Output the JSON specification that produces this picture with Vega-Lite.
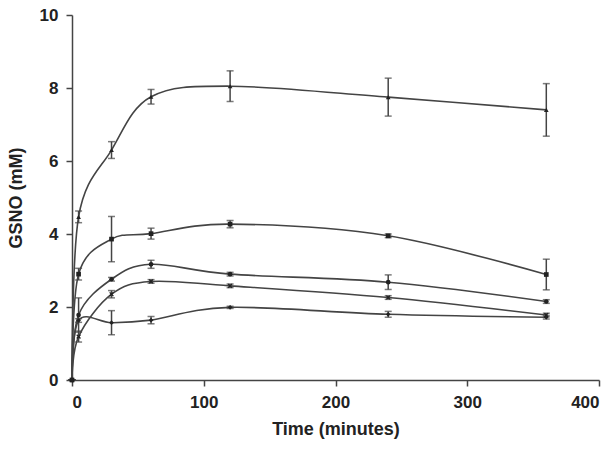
{
  "$schema": "https://vega.github.io/schema/vega-lite/v6.json",
  "autosize": "none",
  "width": 527,
  "height": 365,
  "padding": {"left": 72, "top": 15, "right": 15, "bottom": 80},
  "background": "white",
  "config": {
    "view": {"stroke": null},
    "font": "Liberation Sans",
    "axis": {
      "grid": false,
      "domainColor": "#444",
      "tickColor": "#444",
      "domainWidth": 1.5,
      "tickWidth": 1.5,
      "tickSize": 6,
      "labelFont": "Liberation Sans",
      "labelFontSize": 17,
      "labelFontWeight": "bold",
      "labelColor": "#222",
      "titleFont": "Liberation Sans",
      "titleFontSize": 18,
      "titleFontWeight": "bold",
      "titleColor": "#222"
    }
  },
  "data": {
    "values": [
      {"s": "A", "t": 0, "y": 0, "err": 0},
      {"s": "A", "t": 5, "y": 4.47, "err": 0.16},
      {"s": "A", "t": 30, "y": 6.3, "err": 0.23},
      {"s": "A", "t": 60, "y": 7.76, "err": 0.2},
      {"s": "A", "t": 120, "y": 8.05, "err": 0.42},
      {"s": "A", "t": 240, "y": 7.75, "err": 0.52},
      {"s": "A", "t": 360, "y": 7.4, "err": 0.72},
      {"s": "B", "t": 0, "y": 0, "err": 0},
      {"s": "B", "t": 5, "y": 2.9, "err": 0.16},
      {"s": "B", "t": 30, "y": 3.86, "err": 0.62},
      {"s": "B", "t": 60, "y": 4.01, "err": 0.15},
      {"s": "B", "t": 120, "y": 4.27, "err": 0.1},
      {"s": "B", "t": 240, "y": 3.95, "err": 0.05},
      {"s": "B", "t": 360, "y": 2.89, "err": 0.42},
      {"s": "C", "t": 0, "y": 0, "err": 0},
      {"s": "C", "t": 5, "y": 1.78, "err": 0.47},
      {"s": "C", "t": 30, "y": 2.76, "err": 0.05},
      {"s": "C", "t": 60, "y": 3.17, "err": 0.11},
      {"s": "C", "t": 120, "y": 2.9, "err": 0.05},
      {"s": "C", "t": 240, "y": 2.68, "err": 0.2},
      {"s": "C", "t": 360, "y": 2.15, "err": 0.05},
      {"s": "D", "t": 0, "y": 0, "err": 0},
      {"s": "D", "t": 5, "y": 1.19, "err": 0.15},
      {"s": "D", "t": 30, "y": 2.35, "err": 0.1},
      {"s": "D", "t": 60, "y": 2.7, "err": 0.05},
      {"s": "D", "t": 120, "y": 2.58, "err": 0.05},
      {"s": "D", "t": 240, "y": 2.26, "err": 0.05},
      {"s": "D", "t": 360, "y": 1.78, "err": 0.05},
      {"s": "E", "t": 0, "y": 0, "err": 0},
      {"s": "E", "t": 5, "y": 1.63, "err": 0.05},
      {"s": "E", "t": 30, "y": 1.57, "err": 0.33},
      {"s": "E", "t": 60, "y": 1.64, "err": 0.1},
      {"s": "E", "t": 120, "y": 1.99, "err": 0.03},
      {"s": "E", "t": 240, "y": 1.8, "err": 0.08},
      {"s": "E", "t": 360, "y": 1.72, "err": 0.05}
    ]
  },
  "encoding": {
    "x": {
      "field": "t", "type": "quantitative",
      "scale": {"domain": [0, 400], "nice": false},
      "axis": {"values": [0, 100, 200, 300, 400], "title": "Time (minutes)", "labelPadding": 8, "titlePadding": 10}
    }
  },
  "layer": [
    {
      "mark": {"type": "line", "interpolate": "cardinal", "color": "#444", "strokeWidth": 1.6},
      "encoding": {
        "y": {
          "field": "y", "type": "quantitative", "title": "GSNO (mM)",
          "scale": {"domain": [0, 10], "nice": false},
          "axis": {"values": [0, 2, 4, 6, 8, 10], "title": "GSNO (mM)", "labelPadding": 8, "titlePadding": 14}
        },
        "detail": {"field": "s"}
      }
    },
    {
      "mark": {"type": "errorbar", "ticks": {"size": 7}, "color": "#444", "thickness": 1.5},
      "encoding": {
        "y": {"field": "y", "type": "quantitative", "title": "GSNO (mM)"},
        "yError": {"field": "err"}
      }
    },
    {
      "mark": {"type": "point", "filled": true, "color": "#222", "opacity": 1, "size": 22},
      "encoding": {
        "y": {"field": "y", "type": "quantitative", "title": "GSNO (mM)"},
        "shape": {
          "field": "s", "type": "nominal", "legend": null,
          "scale": {"domain": ["A", "B", "C", "D", "E"], "range": ["triangle-up", "square", "circle", "M-1,-0.6L-0.6,-1L0,-0.4L0.6,-1L1,-0.6L0.4,0L1,0.6L0.6,1L0,0.4L-0.6,1L-1,0.6L-0.4,0Z", "diamond"]}
        }
      }
    }
  ]
}
